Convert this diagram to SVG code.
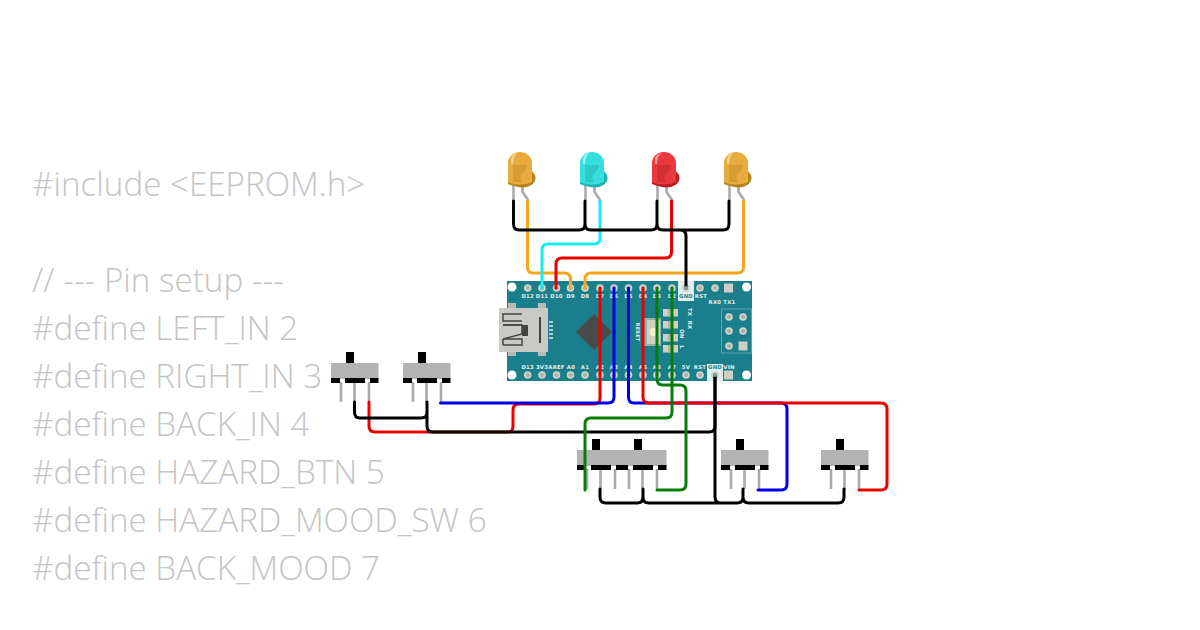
<svg xmlns="http://www.w3.org/2000/svg" width="1200" height="630" viewBox="0 0 1200 630">
<style>
.code{font-family:"Open Sans","Noto Sans",sans-serif;font-size:33.200px;font-weight:300;fill:#c4c4c4}
.w{fill:none;stroke-width:3;stroke-linecap:round;stroke-linejoin:round}
.k{stroke:#000}.r{stroke:#e90000}.b{stroke:#0000e6}.g{stroke:#087c08}.o{stroke:#f9a51a}.c{stroke:#19eeee}
.pl{font-family:"DejaVu Sans",sans-serif;font-size:5.300px;font-weight:bold;letter-spacing:.25px;fill:#e6f0f0;text-anchor:middle}
.pin{fill:url(#pg)}
.lead{stroke:#aaa;stroke-width:2.600;fill:none}
.sb{fill:#b3b3b3}.st{fill:#000}
.pad{fill:#cfcfc0}.ledc{fill:#a9b9a2}
</style>
<defs>
<radialGradient id="pg"><stop offset="0" stop-color="#a8a8a0"/><stop offset=".55" stop-color="#b9bab0"/><stop offset=".6" stop-color="#d4d6cc"/><stop offset="1" stop-color="#c4d0cc"/></radialGradient>
<g id="sw">
<path class="lead" d="M10 19V39M23.500 19V39M38 19V39"/>
<rect class="st" x="15" y="-11" width="8" height="11"/>
<rect class="sb" x="0" y="0" width="47.500" height="16"/>
<rect class="st" x="0" y="15" width="9" height="5"/><rect class="st" x="14" y="15" width="20" height="5"/><rect class="st" x="39" y="15" width="8.500" height="5"/>
</g>
<g id="ledshape">
<path class="lead" d="M-6.500 34V49"/><path class="lead" d="M2.500 34V40L7.500 47V49"/>
</g>
</defs>
<g id="code">
<text class="code" x="32" y="196">#include &lt;EEPROM.h&gt;</text>
<text class="code" x="32" y="292">// --- Pin setup ---</text>
<text class="code" x="32" y="340">#define LEFT_IN 2</text>
<text class="code" x="32" y="388">#define RIGHT_IN 3</text>
<text class="code" x="32" y="436">#define BACK_IN 4</text>
<text class="code" x="32" y="484">#define HAZARD_BTN 5</text>
<text class="code" x="32" y="532">#define HAZARD_MOOD_SW 6</text>
<text class="code" x="32" y="580">#define BACK_MOOD 7</text>
</g>
<g id="board">
<rect x="507" y="281" width="245" height="100" fill="#1b7e8b"/>
<circle cx="512" cy="287" r="4.500" fill="#fff"/><circle cx="746.500" cy="287" r="4.500" fill="#fff"/><circle cx="512" cy="375" r="4.500" fill="#fff"/><circle cx="746.500" cy="375" r="4.500" fill="#fff"/>
<rect x="678" y="281" width="16" height="20" fill="#dfeeee"/>
<rect x="707" y="364" width="16" height="17" fill="#dfeeee"/>
<g class="pins">
<circle class="pin" cx="527.700" cy="288" r="3.800"/><circle class="pin" cx="542" cy="288" r="3.800"/><circle class="pin" cx="556.500" cy="288" r="3.800"/><circle class="pin" cx="570.500" cy="288" r="3.800"/><circle class="pin" cx="585" cy="288" r="3.800"/><circle class="pin" cx="600" cy="288" r="3.800"/><circle class="pin" cx="614" cy="288" r="3.800"/><circle class="pin" cx="628.500" cy="288" r="3.800"/><circle class="pin" cx="643" cy="288" r="3.800"/><circle class="pin" cx="657" cy="288" r="3.800"/><circle class="pin" cx="672" cy="288" r="3.800"/><circle class="pin" cx="686" cy="288" r="3.800"/><circle class="pin" cx="700" cy="288" r="3.800"/><circle class="pin" cx="715" cy="288" r="3.800"/>
<rect x="724" y="283.500" width="9" height="9" fill="#cfcfc4"/>
<circle class="pin" cx="527.700" cy="375" r="3.800"/><circle class="pin" cx="542" cy="375" r="3.800"/><circle class="pin" cx="556.500" cy="375" r="3.800"/><circle class="pin" cx="570.500" cy="375" r="3.800"/><circle class="pin" cx="585" cy="375" r="3.800"/><circle class="pin" cx="600" cy="375" r="3.800"/><circle class="pin" cx="614" cy="375" r="3.800"/><circle class="pin" cx="628.500" cy="375" r="3.800"/><circle class="pin" cx="643" cy="375" r="3.800"/><circle class="pin" cx="657" cy="375" r="3.800"/><circle class="pin" cx="672" cy="375" r="3.800"/><circle class="pin" cx="686" cy="375" r="3.800"/><circle class="pin" cx="700" cy="375" r="3.800"/><circle class="pin" cx="715" cy="375" r="3.800"/>
<rect x="724" y="370.500" width="9" height="9" fill="#cfcfc4"/>
</g>
<text class="pl" x="527.700" y="298">D12</text><text class="pl" x="542" y="298">D11</text><text class="pl" x="556.500" y="298">D10</text><text class="pl" x="570.500" y="298">D9</text><text class="pl" x="585" y="298">D8</text><text class="pl" x="600" y="298">D7</text><text class="pl" x="614" y="298">D6</text><text class="pl" x="628.500" y="298">D5</text><text class="pl" x="643" y="298">D4</text><text class="pl" x="657" y="298">D3</text><text class="pl" x="672" y="298">D2</text><text class="pl" x="686" y="298" style="fill:#1b7e8b">GND</text><text class="pl" x="701" y="298">RST</text>
<text class="pl" x="722" y="304">RX0 TX1</text>
<text class="pl" x="527.700" y="369">D13</text><text class="pl" x="542" y="369">3V3</text><text class="pl" x="556.500" y="369">AREF</text><text class="pl" x="571" y="369">A0</text><text class="pl" x="585" y="369">A1</text><text class="pl" x="600" y="369">A2</text><text class="pl" x="614" y="369">A3</text><text class="pl" x="628.500" y="369">A4</text><text class="pl" x="643" y="369">A5</text><text class="pl" x="657" y="369">A6</text><text class="pl" x="672" y="369">A7</text><text class="pl" x="686" y="369">5V</text><text class="pl" x="700" y="369">RST</text><text class="pl" x="715" y="369" style="fill:#1b7e8b">GND</text><text class="pl" x="729" y="369">VIN</text>
<g id="usb">
<rect x="508" y="303" width="8" height="6" fill="#b9bcb6"/><rect x="538" y="303" width="8" height="6" fill="#b9bcb6"/><rect x="508" y="350" width="8" height="6" fill="#b9bcb6"/><rect x="538" y="350" width="8" height="6" fill="#b9bcb6"/>
<rect x="499" y="308" width="49" height="44" fill="#c9c9c5"/>
<path d="M549 322h4M549 326h4M549 330h4M549 334h4M549 338h4" stroke="#b5c9c9" stroke-width="2" fill="none"/>
<path d="M540 317V343" stroke="#444" stroke-width="2" fill="none"/>
<path d="M522 314H503V321H522M522 325H503M503 345H522V339H503M503 345V339" stroke="#444" stroke-width="1.500" fill="none"/>
<path d="M503 325H522V334L503 339" fill="none" stroke="#444" stroke-width="1.500"/>
<rect x="522" y="325" width="6" height="11" fill="#444"/>
</g>
<path d="M594 314L612 332L594 350L576 332Z" fill="#4a4a4a"/>
<rect x="644" y="318" width="17" height="28" fill="#8fb0ae"/><rect x="647" y="320" width="13" height="24" fill="#cfcfc4"/><circle cx="653.500" cy="332" r="4" fill="#f4eecb"/>
<text class="pl" transform="translate(635.500 332) rotate(90)" style="font-size:5px">RESET</text>
<g class="pad"><rect x="663" y="309" width="15" height="7.500"/><rect x="663" y="321" width="15" height="7.500"/><rect x="663" y="334" width="15" height="7.500"/><rect x="663" y="345" width="15" height="7.500"/></g>
<g class="ledc"><rect x="668" y="309" width="5" height="7.500"/><rect x="668" y="321" width="5" height="7.500"/><rect x="668" y="334" width="5" height="7.500"/><rect x="668" y="345" width="5" height="7.500"/></g>
<text class="pl" transform="translate(688 312) rotate(90)">TX</text><text class="pl" transform="translate(688 325) rotate(90)">RX</text><text class="pl" transform="translate(680 334) rotate(90)">ON</text><text class="pl" transform="translate(680 347) rotate(90)">L</text>
<rect x="721.500" y="309" width="30" height="44" fill="none" stroke="#5fa3ab" stroke-width="1"/>
<circle class="pin" cx="729" cy="317" r="3.800"/><circle class="pin" cx="743" cy="317" r="3.800"/><circle class="pin" cx="729" cy="331" r="3.800"/><circle class="pin" cx="743" cy="331" r="3.800"/><circle class="pin" cx="729" cy="346" r="3.800"/><rect x="738.500" y="341.500" width="9" height="9" fill="#cfcfc4"/>
</g>
<g id="led1" transform="translate(520 152)"><use href="#ledshape"/>
<ellipse cx="2.500" cy="26" rx="13" ry="9.500" fill="#b8841f"/><path d="M-12 31V11A12 11 0 0 1 12 11V31Q0 37 -12 31Z" fill="#e8ab3e"/><path d="M-12 30Q0 35 12 30V32Q0 38 -12 32Z" fill="#b8841f"/><path d="M-7 13H7V24L2 30H-7Z" fill="#d69b34"/><path d="M0 24L7 16V24L2 30Z" fill="#e8ab3e"/><path d="M-9 12V6Q-7 2 -3 1Q-7 5 -7 12Z" fill="#f6d48e"/></g>
<g id="led2" transform="translate(592 152)"><use href="#ledshape"/>
<ellipse cx="2.500" cy="26" rx="13" ry="9.500" fill="#1fb3b3"/><path d="M-12 31V11A12 11 0 0 1 12 11V31Q0 37 -12 31Z" fill="#35dfdf"/><path d="M-12 30Q0 35 12 30V32Q0 38 -12 32Z" fill="#1fb3b3"/><path d="M-7 13H7V24L2 30H-7Z" fill="#2cc8c8"/><path d="M0 24L7 16V24L2 30Z" fill="#35dfdf"/><path d="M-9 12V6Q-7 2 -3 1Q-7 5 -7 12Z" fill="#a9f3f3"/></g>
<g id="led3" transform="translate(664 152)"><use href="#ledshape"/>
<ellipse cx="2.500" cy="26" rx="13" ry="9.500" fill="#b81f24"/><path d="M-12 31V11A12 11 0 0 1 12 11V31Q0 37 -12 31Z" fill="#e8393e"/><path d="M-12 30Q0 35 12 30V32Q0 38 -12 32Z" fill="#b81f24"/><path d="M-7 13H7V24L2 30H-7Z" fill="#d22f33"/><path d="M0 24L7 16V24L2 30Z" fill="#e8393e"/><path d="M-9 12V6Q-7 2 -3 1Q-7 5 -7 12Z" fill="#f6a0a3"/></g>
<g id="led4" transform="translate(736 152)"><use href="#ledshape"/>
<ellipse cx="2.500" cy="26" rx="13" ry="9.500" fill="#b8841f"/><path d="M-12 31V11A12 11 0 0 1 12 11V31Q0 37 -12 31Z" fill="#e8ab3e"/><path d="M-12 30Q0 35 12 30V32Q0 38 -12 32Z" fill="#b8841f"/><path d="M-7 13H7V24L2 30H-7Z" fill="#d69b34"/><path d="M0 24L7 16V24L2 30Z" fill="#e8ab3e"/><path d="M-9 12V6Q-7 2 -3 1Q-7 5 -7 12Z" fill="#f6d48e"/></g>
<g id="sw1"><use href="#sw" x="331" y="363"/></g>
<g id="sw2"><use href="#sw" x="403" y="363"/></g>
<g id="sw3"><use href="#sw" x="577" y="450"/></g>
<g id="sw4"><use href="#sw" x="619" y="450"/></g>
<g id="sw5"><use href="#sw" x="721" y="450"/></g>
<g id="sw6"><use href="#sw" x="821" y="450"/></g>
<g id="connectors">
<path class="w o" d="M527.500 201V267Q527.500 273 533 273H564Q570.500 273 570.500 279V288"/>
<path class="w c" d="M600 201V238Q600 244 594 244H548Q542 244 542 250V288"/>
<path class="w r" d="M671.500 201V252Q671.500 258 665 258H562Q556 258 556 264V288"/>
<path class="w o" d="M743.500 201V267Q743.500 273 737 273H591Q585 273 585 279V288"/>
<path class="w k" d="M513.500 201V224Q513.500 230 519 230H579Q585 230 585 224V201M585 224Q585 230 591 230H651Q657 230 657 224V201M657 224Q657 230 663 230H723Q729 230 729 224V201M680 230Q686 230 686 236V288"/>
<path class="w r" d="M369 402V426Q369 432 375 432H508Q513 432 513 426V410Q513 404 519 404H594Q600 404 600 398V288"/>
<path class="w b" d="M440.500 403H608Q614 403 614 397V288"/>
<path class="w k" d="M354.500 402V412Q354.500 418 360 418H421Q427 418 427 412V402V426Q427 432 433 432H709Q715 432 715 426V375"/>
<path class="w b" d="M628.500 288V397Q628.500 403 634 403H781Q787 403 787 409V484Q787 490 781 490H758"/>
<path class="w r" d="M643 288V397Q643 403 649 403H881Q887 403 887 409V484Q887 490 881 490H859"/>
<path class="w g" d="M657 288V379Q657 385 663 385H680Q686 385 686 391V484Q686 490 680 490H657"/>
<path class="w g" d="M672 288V412Q672 418 666 418H591Q585 418 585 424V490"/>
<path class="w k" d="M600 489V497Q600 503 606 503H637Q643 503 643 497V489M643 497Q643 503 649 503H737Q743 503 743 497V489M743 497Q743 503 749 503H838Q844 503 844 497V489M715 375V497Q715 503 721 503"/>
<circle cx="686" cy="288" r="2" fill="#7f9a9a"/>
<circle cx="715" cy="375" r="2" fill="#7f9a9a"/>
</g>
</svg>
